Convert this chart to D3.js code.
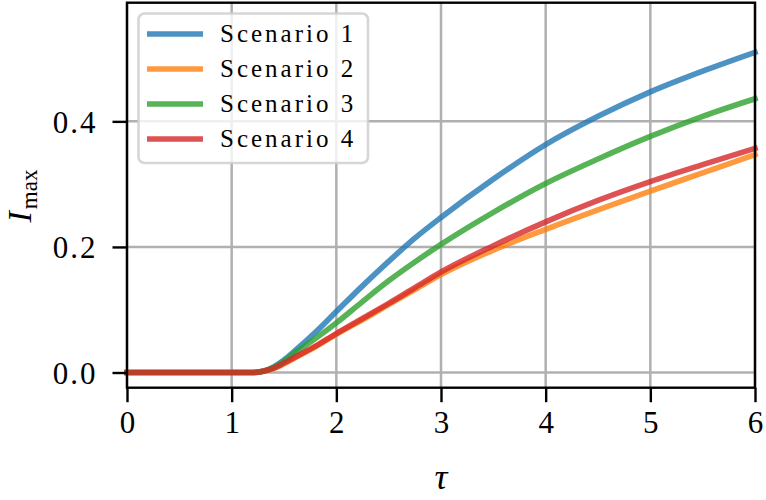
<!DOCTYPE html>
<html>
<head>
<meta charset="utf-8">
<script src="https://cdn.jsdelivr.net/npm/d3@7"></script>
<style>
  html, body { margin: 0; padding: 0; background: #fff; }
  svg { display: block; }
  text { font-family: "Liberation Serif", "DejaVu Serif", serif; fill: #000; }
</style>
</head>
<body>
<svg id="chart" width="766" height="500"></svg>
<script>
// ---- data ----
const tau = [0, 0.5, 1.0, 1.2, 1.3, 1.4, 1.5, 1.6, 1.8, 2.0, 2.25, 2.5, 2.75, 3.0, 3.5, 4.0, 4.5, 5.0, 5.5, 6.0];
const scenario1 = [0, 0, 0, 0, 0.002, 0.009, 0.020, 0.034, 0.064, 0.097, 0.138, 0.177, 0.214, 0.247, 0.308, 0.363, 0.408, 0.447, 0.480, 0.510];
const scenario2 = [0, 0, 0, 0, 0.002, 0.006, 0.014, 0.023, 0.041, 0.061, 0.084, 0.108, 0.132, 0.156, 0.195, 0.228, 0.259, 0.289, 0.318, 0.347];
const scenario3 = [0, 0, 0, 0, 0.002, 0.008, 0.018, 0.031, 0.054, 0.079, 0.113, 0.146, 0.176, 0.204, 0.255, 0.301, 0.340, 0.376, 0.408, 0.436];
const scenario4 = [0, 0, 0, 0, 0.002, 0.007, 0.015, 0.024, 0.042, 0.062, 0.086, 0.110, 0.135, 0.160, 0.202, 0.240, 0.274, 0.304, 0.331, 0.357];
const seriesNames = ["Scenario 1", "Scenario 2", "Scenario 3", "Scenario 4"];
const seriesColors = ["#1f77b4", "#ff7f0e", "#2ca02c", "#d62728"];
const xTicks = [0, 1, 2, 3, 4, 5, 6];
const yTicks = [0.0, 0.2, 0.4];
const xDomain = [0, 6];
const yDomain = [-0.0242, 0.589];

const series = [scenario1, scenario2, scenario3, scenario4].map((vals, i) => ({
  name: seriesNames[i], color: seriesColors[i],
  points: tau.map((t, j) => ({ x: t, y: vals[j] }))
}));

// ---- layout ----
const L = 127, R = 755, T = 2.7, B = 387.7;
const svg = d3.select("#chart");
const x = d3.scaleLinear().domain(xDomain).range([L, R]);
const y = d3.scaleLinear().domain(yDomain).range([B, T]);

// grid
const grid = svg.append("g");
grid.selectAll("line.gx").data(xTicks).join("line")
  .attr("x1", d => x(d)).attr("x2", d => x(d)).attr("y1", T).attr("y2", B)
  .attr("stroke", "#b0b0b0").attr("stroke-width", 2.5);
grid.selectAll("line.gy").data(yTicks).join("line")
  .attr("y1", d => y(d)).attr("y2", d => y(d)).attr("x1", L).attr("x2", R)
  .attr("stroke", "#b0b0b0").attr("stroke-width", 2.5);

// lines
const line = d3.line().x(d => x(d.x)).y(d => y(d.y)).curve(d3.curveMonotoneX);
svg.append("g").selectAll("path").data(series).join("path")
  .attr("d", d => line(d.points))
  .attr("fill", "none")
  .attr("stroke", d => d.color)
  .attr("stroke-opacity", 0.8)
  .attr("stroke-width", 5.6)
  .attr("stroke-linecap", "square");

// axes
const xAxis = d3.axisBottom(x).tickValues(xTicks).tickSize(14.5).tickPadding(9).tickFormat(d3.format("d"));
const yAxis = d3.axisLeft(y).tickValues(yTicks).tickSize(14.5).tickPadding(15).tickFormat(d3.format(".1f"));
const gx = svg.append("g").attr("transform", `translate(0,${B})`).call(xAxis);
const gy = svg.append("g").attr("transform", `translate(${L},0)`).call(yAxis);
[gx, gy].forEach(g => {
  g.select(".domain").remove();
  g.selectAll(".tick line").attr("stroke", "#000").attr("stroke-width", 2.4);
  g.selectAll(".tick text").attr("font-family", "Liberation Serif, DejaVu Serif, serif")
    .attr("font-size", 31).attr("fill", "#000");
});
gx.selectAll(".tick text").attr("dy", "0.71em");
gy.selectAll(".tick text").attr("letter-spacing", 2).attr("dy", "0.35em");

// spines
svg.append("rect").attr("x", L).attr("y", T).attr("width", R - L).attr("height", B - T)
  .attr("fill", "none").attr("stroke", "#000").attr("stroke-width", 2.4);

// legend
const leg = svg.append("g");
leg.append("rect").attr("x", 138.5).attr("y", 13.5).attr("width", 229.5).attr("height", 149.5)
  .attr("rx", 6).attr("ry", 6)
  .attr("fill", "#fff").attr("fill-opacity", 0.8)
  .attr("stroke", "#cccccc").attr("stroke-opacity", 0.8).attr("stroke-width", 2.6);
const items = leg.selectAll("g.item").data(series).join("g")
  .attr("transform", (d, i) => `translate(0,${34 + i * 35})`);
items.append("line").attr("x1", 147).attr("x2", 203).attr("y1", 0).attr("y2", 0)
  .attr("stroke", d => d.color).attr("stroke-opacity", 0.8).attr("stroke-width", 5.6);
items.append("text").attr("x", 220).attr("y", 0).attr("dy", "0.33em")
  .attr("font-size", 25).attr("letter-spacing", 3)
  .text(d => d.name);

// axis labels
svg.append("text").attr("x", 441).attr("y", 489).attr("text-anchor", "middle")
  .attr("font-size", 36).attr("font-style", "italic").text("τ");
const yl = svg.append("text").attr("transform", "translate(31,196) rotate(-90)")
  .attr("text-anchor", "middle").attr("font-size", 34);
yl.append("tspan").attr("font-style", "italic").text("I");
yl.append("tspan").attr("font-size", 23).attr("dy", 6).attr("dx", 2).text("max");
</script>
</body>
</html>
